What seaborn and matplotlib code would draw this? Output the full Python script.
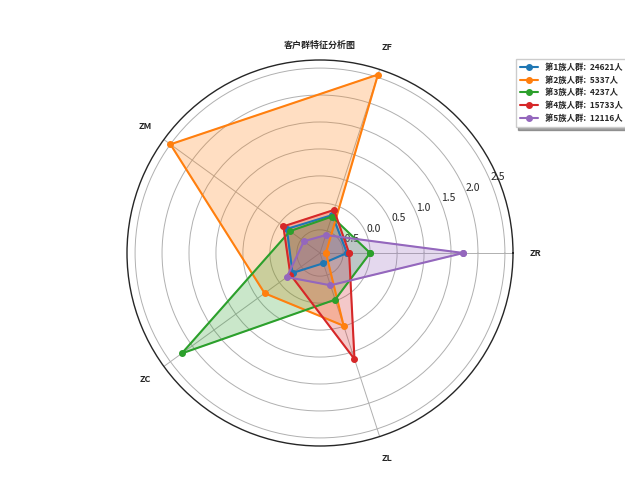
import numpy as np
import pandas as pd
import seaborn as sns
import matplotlib
matplotlib.use("Agg")
import matplotlib.pyplot as plt

sns.set_style("white")
plt.rcParams['font.family'] = ['Noto Sans CJK SC', 'DejaVu Sans']
plt.rcParams['axes.unicode_minus'] = False

features = ['ZR', 'ZF', 'ZM', 'ZC', 'ZL']
group_sizes = [24621, 5337, 4237, 15733, 12116]
group1 = [-0.43, -0.19, -0.17, -0.30, -0.73]
group2 = [-0.82, 2.55, 2.50, 0.34, 0.49]
group3 = [0.00, -0.22, -0.24, 2.24, -0.02]
group4 = [-0.39, -0.09, -0.09, -0.25, 1.14]
group5 = [1.73, -0.58, -0.56, -0.17, -0.30]
groups = [group1, group2, group3, group4, group5]

colors = sns.color_palette("tab10", 5)
angles = np.linspace(0, 2 * np.pi, len(features), endpoint=False)
angles_closed = np.concatenate([angles, angles[:1]])

fig = plt.figure(figsize=(6.25, 5), dpi=100)
ax = fig.add_axes([0.203, 0.108, 0.618, 0.772], polar=True)

for i, vals in enumerate(groups):
    v = np.concatenate([vals, vals[:1]])
    label = f"第{i+1}族人群:  {group_sizes[i]}人"
    ax.plot(angles_closed, v, 'o-', color=colors[i], lw=1.5, ms=4, label=label)
    ax.fill(angles_closed, v, color=colors[i], alpha=0.25)

ax.set_ylim(-0.93, 2.65)
ax.set_yticks([-0.5, 0, 0.5, 1.0, 1.5, 2.0, 2.5])
ax.set_yticklabels(['-0.5', '0.0', '0.5', '1.0', '1.5', '2.0', '2.5'], fontsize=7.5)
ax.set_rlabel_position(22.5)
ax.set_thetagrids(np.degrees(angles), features, fontsize=6.5, fontweight='bold')
ax.tick_params(axis='x', pad=6)
ax.grid(True, color='#b0b0b0', lw=0.7)
ax.spines['polar'].set_linewidth(1)
fig.text(0.512, 0.91, '客户群特征分析图', fontsize=6.5, fontweight='bold', ha='center', va='center')

leg = ax.legend(loc='upper left', bbox_to_anchor=(1.0, 1.01), prop={'size': 6, 'weight': 'bold'},
                shadow=True, fancybox=False, handlelength=2.2, borderpad=0.5,
                labelspacing=0.45, handletextpad=0.8, borderaxespad=0.3)

fig.savefig('out.png', dpi=100)
